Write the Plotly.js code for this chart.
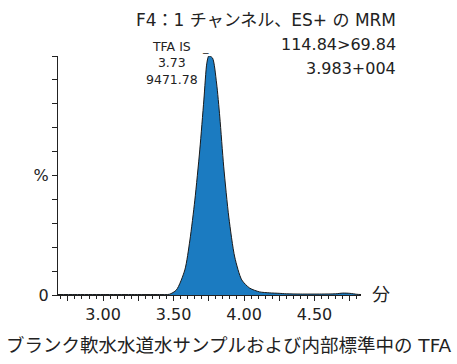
<!DOCTYPE html>
<html><head><meta charset="utf-8">
<script src="https://cdn.plot.ly/plotly-3.0.1.min.js"></script>
<style>html,body{margin:0;padding:0;background:#fff;}#chart{width:457px;height:364px;}</style>
</head><body><div id="chart"></div>
<script>
// Retention time (min) and relative intensity (%)
var times = [2.68, 2.80, 3.00, 3.20, 3.40, 3.47, 3.52, 3.58, 3.616, 3.651, 3.686, 3.715, 3.736, 3.75, 3.776, 3.805, 3.828, 3.856, 3.892, 3.934, 3.984, 4.04, 4.11, 4.18, 4.25, 4.30, 4.40, 4.55, 4.65, 4.70, 4.75, 4.80, 4.83];
var intensity = [0.2, 0.2, 0.2, 0.2, 0.2, 0.3, 2.1, 10.5, 23, 39.7, 60.7, 81.6, 97, 100, 99.2, 88.7, 74.5, 53.6, 32.6, 15.9, 6.3, 2.9, 1.3, 0.9, 0.7, 0.5, 0.4, 0.4, 0.5, 0.8, 0.7, 0.3, 0.2];
var xTickVals = [2.75, 3.00, 3.25, 3.50, 3.75, 4.00, 4.25, 4.50, 4.75];
var xTickText = ['', '3.00', '', '3.50', '', '4.00', '', '4.50', ''];
var yTickVals = [0, 10, 20, 30, 40, 50, 60, 70, 80, 90, 100];
var yTickText = ['0', '', '', '', '', '%', '', '', '', '', ''];
var peakLabel = ['TFA IS', '3.73', '9471.78'];
var peakTime = 3.73;
var titleLines = ['F4：1 チャンネル、ES+ の MRM', '114.84>69.84', '3.983+004'];
var xUnit = '分';
var caption = 'ブランク軟水水道水サンプルおよび内部標準中の TFA';

var FONT = 'DejaVu Sans, Noto Sans CJK JP, sans-serif';
var trace = {
  x: times, y: intensity, type: 'scatter', mode: 'lines',
  line: {color: '#1a1a1a', width: 1, shape: 'spline', smoothing: 0.7},
  fill: 'tozeroy', fillcolor: '#1b7bc1', hoverinfo: 'skip'
};
var annotations = [];
titleLines.forEach(function (t, i) {
  annotations.push({xref: 'paper', yref: 'paper', x: 1.112, y: 1, xanchor: 'right', yanchor: 'middle',
    xshift: 3, yshift: 36 - 24 * i, text: t, showarrow: false,
    font: {size: i === 0 ? 17 : 16, family: FONT, color: '#222'}});
});
annotations.push(
  {xref: 'x', yref: 'paper', x: peakTime, y: 1, xanchor: 'right', yanchor: 'top', xshift: -6, yshift: 19,
   text: peakLabel.join('<br>'), align: 'center', showarrow: false,
   font: {size: 12.5, family: FONT, color: '#222'}},
  {xref: 'x', yref: 'paper', x: peakTime, y: 1, xanchor: 'center', yanchor: 'bottom', yshift: 0,
   text: '_', showarrow: false, font: {size: 11, family: FONT, color: '#222'}},
  {xref: 'paper', yref: 'paper', x: 1, y: 0, xanchor: 'left', yanchor: 'middle', xshift: 9, yshift: 2,
   text: xUnit, showarrow: false, font: {size: 18, family: 'Noto Sans CJK JP, sans-serif', color: '#222'}},
  {xref: 'paper', yref: 'paper', x: 0.565, y: 0, xanchor: 'center', yanchor: 'middle', yshift: -50,
   text: caption, showarrow: false, font: {size: 18.5, family: FONT, color: '#222'}}
);
var layout = {
  width: 457, height: 364,
  margin: {l: 58, r: 96, t: 56, b: 69},
  paper_bgcolor: '#fff', plot_bgcolor: '#fff',
  showlegend: false,
  font: {family: FONT, color: '#222', size: 16},
  xaxis: {
    range: [2.68, 4.83], showgrid: false, zeroline: false,
    showline: true, linecolor: '#222', linewidth: 1,
    ticks: 'outside', ticklen: 5, tickcolor: '#222',
    tickmode: 'array', tickvals: xTickVals, ticktext: xTickText,
    minor: {dtick: 0.05, tick0: 2.7, ticks: 'outside', ticklen: 3, tickcolor: '#222'},
    tickfont: {size: 16, family: FONT, color: '#222'}
  },
  yaxis: {
    range: [0, 100], showgrid: false, zeroline: false,
    showline: true, linecolor: '#222', linewidth: 1,
    ticks: 'outside', ticklen: 5, tickcolor: '#222',
    tickmode: 'array', tickvals: yTickVals, ticktext: yTickText,
    tickfont: {size: 16, family: FONT, color: '#222'}
  },
  annotations: annotations
};
Plotly.newPlot('chart', [trace], layout, {staticPlot: true, displayModeBar: false});
</script></body></html>
